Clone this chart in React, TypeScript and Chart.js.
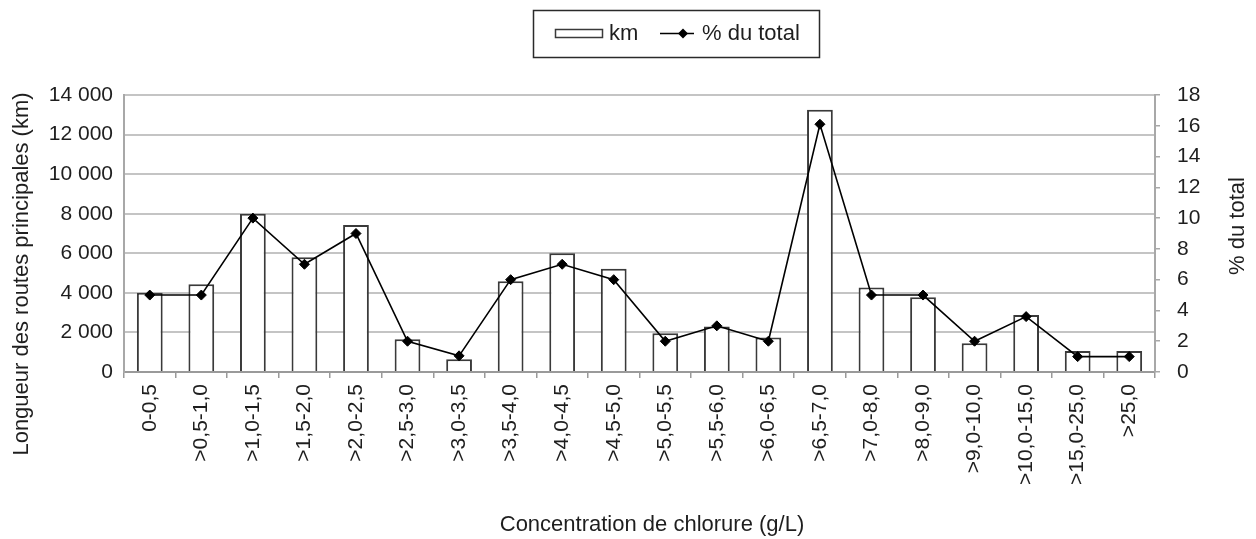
import React, { useEffect, useRef } from "react";
import { Chart, registerables } from "chart.js";

Chart.register(...registerables);

const categories = [
  "0-0,5", ">0,5-1,0", ">1,0-1,5", ">1,5-2,0", ">2,0-2,5", ">2,5-3,0", ">3,0-3,5",
  ">3,5-4,0", ">4,0-4,5", ">4,5-5,0", ">5,0-5,5", ">5,5-6,0", ">6,0-6,5", ">6,5-7,0",
  ">7,0-8,0", ">8,0-9,0", ">9,0-10,0", ">10,0-15,0", ">15,0-25,0", ">25,0",
];
const kmValues = [
  4000, 4430, 8000, 5800, 7430, 1660, 640, 4590, 6000, 5220,
  1960, 2300, 1740, 13260, 4270, 3780, 1450, 2880, 1060, 1060,
];
const pctValues = [5, 5, 10, 7, 9, 2, 1.05, 6, 7, 6, 2, 3, 2, 16.1, 5, 5, 2, 3.6, 1, 1];
const kmTicks = { min: 0, max: 14000, step: 2000 };
const pctTicks = { min: 0, max: 18, step: 2 };
const seriesNames = ["km", "% du total"];
const yTitle = "Longueur des routes principales (km)";
const y1Title = "% du total";
const xTitle = "Concentration de chlorure (g/L)";

const FONT = '"Liberation Sans", Arial, Helvetica, sans-serif';
const TEXT = "#1e1e1e";

const fmt = (v: number) => String(v).replace(/\B(?=(\d{3})+(?!\d))/g, " ");

const overlay = {
  id: "overlay",
  afterDraw(chart: any) {
    const ctx = chart.ctx as CanvasRenderingContext2D;
    ctx.save();
    ctx.fillStyle = TEXT;
    ctx.font = `22px ${FONT}`;
    ctx.textAlign = "center";
    ctx.textBaseline = "middle";
    // left axis title
    ctx.save();
    ctx.translate(22, 274);
    ctx.rotate(-Math.PI / 2);
    ctx.fillText(yTitle, 0, 0);
    ctx.restore();
    // right axis title
    ctx.save();
    ctx.translate(1238, 226);
    ctx.rotate(-Math.PI / 2);
    ctx.fillText(y1Title, 0, 0);
    ctx.restore();
    // x title
    ctx.fillText(xTitle, 652, 525);

    // legend
    ctx.strokeStyle = "#2a2a2a";
    ctx.lineWidth = 1.5;
    ctx.strokeRect(533.5, 10.5, 286, 47);
    ctx.fillStyle = "#ffffff";
    ctx.fillRect(555.5, 29.5, 47, 8);
    ctx.strokeStyle = "#3a3a3a";
    ctx.strokeRect(555.5, 29.5, 47, 8);
    ctx.fillStyle = TEXT;
    ctx.textAlign = "left";
    ctx.fillText(seriesNames[0], 609, 34);
    ctx.strokeStyle = "#000";
    ctx.lineWidth = 1.6;
    ctx.beginPath();
    ctx.moveTo(660, 33.5);
    ctx.lineTo(694, 33.5);
    ctx.stroke();
    ctx.fillStyle = "#000";
    ctx.beginPath();
    ctx.moveTo(683, 28.5);
    ctx.lineTo(688, 33.5);
    ctx.lineTo(683, 38.5);
    ctx.lineTo(678, 33.5);
    ctx.closePath();
    ctx.fill();
    ctx.fillStyle = TEXT;
    ctx.fillText(seriesNames[1], 702, 34);
    ctx.restore();
  },
};

export default function App() {
  const ref = useRef<HTMLCanvasElement | null>(null);

  useEffect(() => {
    if (!ref.current) return;
    const chart = new Chart(ref.current, {
      type: "bar",
      data: {
        labels: categories,
        datasets: [
          {
            type: "line",
            label: seriesNames[1],
            data: pctValues,
            yAxisID: "y1",
            borderColor: "#000",
            backgroundColor: "#000",
            borderWidth: 1.6,
            pointStyle: "rectRot",
            pointRadius: 5,
            pointBackgroundColor: "#000",
            pointBorderColor: "#000",
            pointBorderWidth: 1,
            tension: 0,
            order: 0,
          } as any,
          {
            type: "bar",
            label: seriesNames[0],
            data: kmValues,
            yAxisID: "y",
            backgroundColor: "#ffffff",
            borderColor: "#3a3a3a",
            borderWidth: 2,
            categoryPercentage: 1,
            barPercentage: 0.5,
            order: 1,
          } as any,
        ],
      },
      options: {
        responsive: false,
        animation: false,
        layout: { padding: { top: 95, left: 0, right: 0, bottom: 0 } },
        plugins: {
          legend: { display: false },
          tooltip: { enabled: false },
          title: { display: false },
        },
        scales: {
          x: {
            type: "category",
            offset: true,
            grid: {
              offset: true,
              drawOnChartArea: false,
              drawTicks: true,
              tickLength: 6,
              color: "#9a9a9a",
              lineWidth: 1.5,
            },
            border: { display: true, color: "#9a9a9a", width: 2 },
            ticks: {
              autoSkip: false,
              minRotation: 90,
              maxRotation: 90,
              padding: 6,
              color: TEXT,
              font: { family: FONT, size: 21 },
            },
            afterFit(scale: any) {
              scale.height = 167;
            },
          },
          y: {
            position: "left",
            min: kmTicks.min,
            max: kmTicks.max,
            ticks: {
              stepSize: kmTicks.step,
              padding: 11,
              color: TEXT,
              font: { family: FONT, size: 21 },
              callback: (v: any) => fmt(Number(v)),
            },
            grid: {
              color: "#c4c4c4",
              lineWidth: 2,
              drawTicks: false,
            },
            border: { display: true, color: "#a8a8a8", width: 2 },
            afterFit(scale: any) {
              scale.width = 124;
            },
          },
          y1: {
            position: "right",
            min: pctTicks.min,
            max: pctTicks.max,
            ticks: {
              stepSize: pctTicks.step,
              padding: 17,
              color: TEXT,
              font: { family: FONT, size: 21 },
            },
            grid: {
              drawOnChartArea: false,
              drawTicks: true,
              tickLength: 5,
              color: "#a8a8a8",
              lineWidth: 1.5,
            },
            border: { display: true, color: "#a8a8a8", width: 2 },
            afterFit(scale: any) {
              scale.width = 101;
            },
          },
        },
      } as any,
      plugins: [overlay],
    });
    return () => chart.destroy();
  }, []);

  return (
    <div style={{ position: "absolute", left: 0, top: 0, width: 1256, height: 539, background: "#fff" }}>
      <canvas ref={ref} width={1256} height={539} style={{ display: "block" }} />
    </div>
  );
}
